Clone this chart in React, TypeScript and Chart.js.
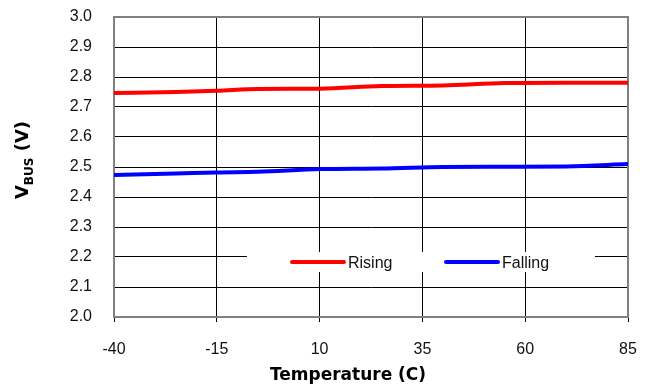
import React, { useEffect, useRef } from "react";
import { Chart, registerables } from "chart.js";

Chart.register(...registerables);

const temperatures = [-40, -25, -15, -5, 10, 25, 40, 55, 70, 85];
const rising = [2.747, 2.75, 2.754, 2.76, 2.761, 2.77, 2.772, 2.78, 2.781, 2.781];
const falling = [2.473, 2.478, 2.482, 2.484, 2.493, 2.495, 2.5, 2.501, 2.502, 2.51];
const xTickValues = [-40, -15, 10, 35, 60, 85];
const seriesNames = ["Rising", "Falling"];
const seriesColors = ["#ff0000", "#0000ff"];
const xTitle = "Temperature (C)";
const yTitleMain = "V";
const yTitleSub = "BUS";
const yTitleTail = " (V)";

const tickFont = "Liberation Sans, Arial, sans-serif";
const titleFont = "DejaVu Sans, Verdana, sans-serif";

const overlayPlugin = {
  id: "overlay",
  beforeDatasetsDraw(chart: any) {
    const { ctx, chartArea } = chart;
    ctx.save();
    ctx.strokeStyle = "#808080";
    ctx.lineWidth = 2;
    ctx.strokeRect(chartArea.left, chartArea.top, chartArea.right - chartArea.left, chartArea.bottom - chartArea.top);
    ctx.fillStyle = "#ffffff";
    ctx.fillRect(247, 252, 348, 20);
    const items = [
      { x0: 292, x1: 344, tx: 348 },
      { x0: 446, x1: 498, tx: 502 },
    ];
    items.forEach((it, i) => {
      ctx.strokeStyle = seriesColors[i];
      ctx.lineWidth = 4;
      ctx.lineCap = "round";
      ctx.beginPath();
      ctx.moveTo(it.x0, 262);
      ctx.lineTo(it.x1, 262);
      ctx.stroke();
      ctx.fillStyle = "#111111";
      ctx.font = `16px ${tickFont}`;
      ctx.textBaseline = "alphabetic";
      ctx.textAlign = "left";
      ctx.fillText(seriesNames[i], it.tx, 268);
    });
    ctx.restore();
  },
  afterDraw(chart: any) {
    const { ctx } = chart;
    ctx.save();
    ctx.fillStyle = "#000000";
    ctx.font = `bold 17px ${titleFont}`;
    ctx.textAlign = "center";
    ctx.textBaseline = "alphabetic";
    ctx.fillText(xTitle, 348, 380);
    ctx.translate(28, 160);
    ctx.rotate(-Math.PI / 2);
    const mainFont = `bold 18px ${titleFont}`;
    const subFont = `bold 12px ${titleFont}`;
    ctx.font = mainFont;
    const wMain = ctx.measureText(yTitleMain).width;
    const wTail = ctx.measureText(yTitleTail).width;
    ctx.font = subFont;
    const wSub = ctx.measureText(yTitleSub).width;
    const total = wMain + wSub + wTail;
    let x = -total / 2;
    ctx.textAlign = "left";
    ctx.font = mainFont;
    ctx.fillText(yTitleMain, x, 0);
    x += wMain;
    ctx.font = subFont;
    ctx.fillText(yTitleSub, x, 5);
    x += wSub;
    ctx.font = mainFont;
    ctx.fillText(yTitleTail, x, 0);
    ctx.restore();
  },
};

export default function App() {
  const ref = useRef<HTMLCanvasElement>(null);
  useEffect(() => {
    if (!ref.current) return;
    const chart = new Chart(ref.current, {
      type: "line",
      data: {
        datasets: [
          {
            label: seriesNames[0],
            data: temperatures.map((t, i) => ({ x: t, y: rising[i] })),
            borderColor: seriesColors[0],
            borderWidth: 4,
            pointRadius: 0,
            cubicInterpolationMode: "monotone",
            fill: false,
          },
          {
            label: seriesNames[1],
            data: temperatures.map((t, i) => ({ x: t, y: falling[i] })),
            borderColor: seriesColors[1],
            borderWidth: 4,
            pointRadius: 0,
            cubicInterpolationMode: "monotone",
            fill: false,
          },
        ],
      },
      options: {
        responsive: false,
        animation: false,
        layout: { padding: { top: 17, right: 20, left: 0, bottom: 0 } },
        plugins: { legend: { display: false }, tooltip: { enabled: false } },
        scales: {
          x: {
            type: "linear",
            min: -40,
            max: 85,
            afterFit: (s: any) => {
              s.height = 68;
              s.paddingLeft = 0;
              s.paddingRight = 0;
            },
            afterBuildTicks: (s: any) => {
              s.ticks = xTickValues.map((v) => ({ value: v }));
            },
            grid: { color: "#000000", lineWidth: 1, tickLength: 5, drawTicks: true },
            border: { color: "#808080", width: 2 },
            ticks: {
              color: "#111111",
              font: { family: tickFont, size: 16 },
              padding: 18,
              maxRotation: 0,
              autoSkip: false,
            },
          },
          y: {
            min: 2,
            max: 3,
            afterFit: (s: any) => {
              s.width = 114;
              s.paddingTop = 0;
              s.paddingBottom = 0;
            },
            grid: { color: "#000000", lineWidth: 1, drawTicks: false },
            border: { color: "#808080", width: 2 },
            ticks: {
              stepSize: 0.1,
              color: "#111111",
              font: { family: tickFont, size: 16 },
              padding: 22,
              callback: (v: any) => Number(v).toFixed(1),
            },
          },
        },
      },
      plugins: [overlayPlugin],
    } as any);
    return () => chart.destroy();
  }, []);
  return (
    <div style={{ position: "absolute", left: 0, top: 0, width: 648, height: 385, background: "#fff" }}>
      <canvas ref={ref} width={648} height={385} style={{ width: 648, height: 385 }} />
    </div>
  );
}
